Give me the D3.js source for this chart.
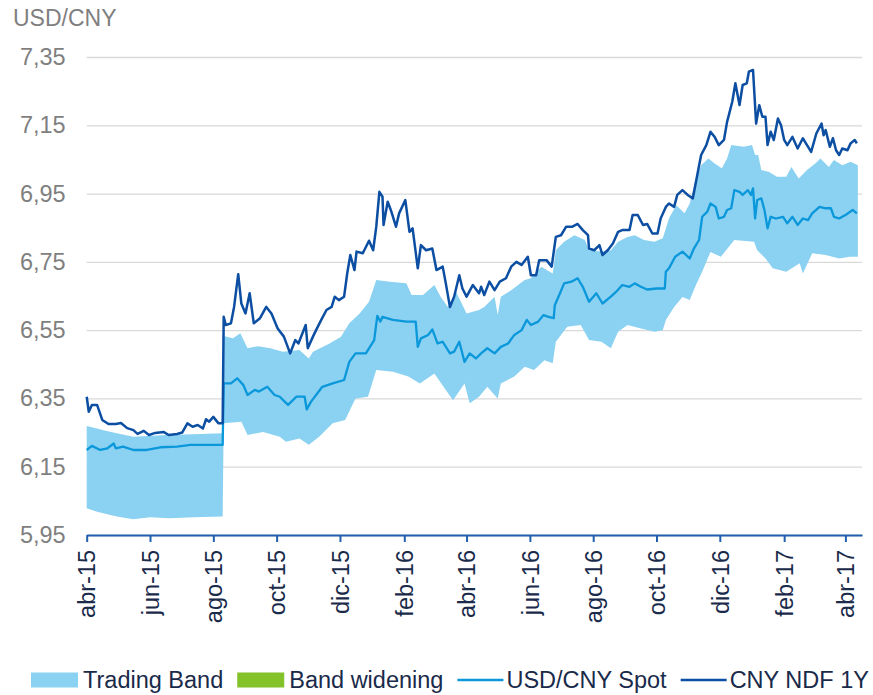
<!DOCTYPE html>
<html>
<head>
<meta charset="utf-8">
<script src="https://cdnjs.cloudflare.com/ajax/libs/d3/7.8.5/d3.min.js"></script>
<style>
body { margin: 0; background: #fff; }
text { font-family: "Liberation Sans", Arial, sans-serif; }
</style>
</head>
<body>
<svg width="873" height="695"></svg>
<script>
// DATA

var xTickDates = ["2015-04-01", "2015-06-01", "2015-08-01", "2015-10-01", "2015-12-01", "2016-02-01",
	"2016-04-01", "2016-06-01", "2016-08-01", "2016-10-01", "2016-12-01", "2017-02-01", "2017-04-01"];
var xTickLabels = ["abr-15", "jun-15", "ago-15", "oct-15", "dic-15", "feb-16",
	"abr-16", "jun-16", "ago-16", "oct-16", "dic-16", "feb-17", "abr-17"];
var yTicks = [5.95, 6.15, 6.35, 6.55, 6.75, 6.95, 7.15, 7.35];

// upper edge of the trading band
var bandHigh = [
	["2015-04-01", 6.269], ["2015-04-11", 6.262], ["2015-04-17", 6.257], ["2015-04-30", 6.248],
	["2015-05-16", 6.238], ["2015-06-17", 6.243], ["2015-07-20", 6.246], ["2015-08-10", 6.248],
	["2015-08-11", 6.533], ["2015-08-20", 6.526], ["2015-08-27", 6.541], ["2015-09-03", 6.497],
	["2015-09-13", 6.503], ["2015-09-25", 6.497], ["2015-10-07", 6.487], ["2015-10-23", 6.492],
	["2015-11-01", 6.467], ["2015-11-05", 6.487], ["2015-11-21", 6.511], ["2015-12-02", 6.531],
	["2015-12-10", 6.570], ["2015-12-20", 6.599], ["2015-12-29", 6.633], ["2016-01-05", 6.697],
	["2016-01-18", 6.692], ["2016-02-03", 6.687], ["2016-02-08", 6.653], ["2016-02-19", 6.653],
	["2016-03-01", 6.682], ["2016-03-07", 6.648], ["2016-03-14", 6.618], ["2016-03-22", 6.662],
	["2016-04-01", 6.599], ["2016-04-13", 6.609], ["2016-04-18", 6.618], ["2016-04-28", 6.648],
	["2016-05-01", 6.594], ["2016-05-04", 6.648], ["2016-05-14", 6.667], ["2016-05-27", 6.697],
	["2016-06-02", 6.702], ["2016-06-12", 6.736], ["2016-06-23", 6.716], ["2016-06-26", 6.784],
	["2016-07-04", 6.809], ["2016-07-14", 6.828], ["2016-07-24", 6.814], ["2016-07-28", 6.784],
	["2016-08-09", 6.780], ["2016-08-18", 6.784], ["2016-08-25", 6.809], ["2016-09-03", 6.823],
	["2016-09-10", 6.828], ["2016-09-19", 6.814], ["2016-09-29", 6.809], ["2016-10-07", 6.819],
	["2016-10-09", 6.838], ["2016-10-13", 6.877], ["2016-10-20", 6.916], ["2016-10-28", 6.892],
	["2016-11-02", 6.921], ["2016-11-07", 6.984], ["2016-11-13", 7.033], ["2016-11-20", 7.053],
	["2016-11-26", 7.038], ["2016-12-03", 7.024], ["2016-12-08", 7.053], ["2016-12-12", 7.092],
	["2016-12-24", 7.087], ["2017-01-01", 7.092], ["2017-01-04", 7.063], ["2017-01-07", 7.063],
	["2017-01-10", 7.019], ["2017-01-17", 7.014], ["2017-01-25", 6.999], ["2017-02-03", 6.999],
	["2017-02-08", 7.028], ["2017-02-15", 6.994], ["2017-02-23", 7.019], ["2017-03-03", 7.038],
	["2017-03-08", 7.053], ["2017-03-16", 7.028], ["2017-03-21", 7.048], ["2017-03-29", 7.033],
	["2017-04-06", 7.043], ["2017-04-13", 7.033]
];

// lower edge of the trading band
var bandLow = [
	["2015-04-01", 6.028], ["2015-04-11", 6.018], ["2015-04-30", 6.004], ["2015-05-16", 5.996],
	["2015-06-01", 6.002], ["2015-06-20", 5.999], ["2015-07-13", 6.002], ["2015-08-10", 6.004],
	["2015-08-11", 6.277], ["2015-08-28", 6.282], ["2015-09-03", 6.243], ["2015-09-18", 6.252],
	["2015-10-04", 6.238], ["2015-10-10", 6.223], ["2015-10-23", 6.233], ["2015-11-01", 6.214],
	["2015-11-11", 6.238], ["2015-11-24", 6.277], ["2015-12-06", 6.287], ["2015-12-16", 6.350],
	["2015-12-28", 6.355], ["2016-01-05", 6.433], ["2016-01-21", 6.428], ["2016-02-05", 6.414],
	["2016-02-16", 6.394], ["2016-03-01", 6.423], ["2016-03-12", 6.375], ["2016-03-19", 6.345],
	["2016-03-30", 6.394], ["2016-04-04", 6.336], ["2016-04-13", 6.355], ["2016-04-21", 6.384],
	["2016-05-01", 6.350], ["2016-05-04", 6.394], ["2016-05-17", 6.414], ["2016-05-27", 6.443],
	["2016-06-05", 6.433], ["2016-06-15", 6.462], ["2016-06-23", 6.453], ["2016-06-26", 6.516],
	["2016-07-07", 6.560], ["2016-07-20", 6.565], ["2016-07-28", 6.521], ["2016-08-09", 6.516],
	["2016-08-18", 6.497], ["2016-08-25", 6.545], ["2016-09-03", 6.565], ["2016-09-16", 6.555],
	["2016-09-29", 6.545], ["2016-10-07", 6.550], ["2016-10-10", 6.580], ["2016-10-18", 6.618],
	["2016-10-26", 6.647], ["2016-11-02", 6.638], ["2016-11-08", 6.682], ["2016-11-14", 6.721],
	["2016-11-22", 6.779], ["2016-12-02", 6.765], ["2016-12-15", 6.814], ["2017-01-03", 6.809],
	["2017-01-06", 6.784], ["2017-01-14", 6.760], ["2017-01-21", 6.731], ["2017-02-03", 6.721],
	["2017-02-16", 6.746], ["2017-02-19", 6.716], ["2017-02-28", 6.775], ["2017-03-13", 6.770],
	["2017-03-26", 6.760], ["2017-04-05", 6.765], ["2017-04-13", 6.765]
];

var spot = [
	["2015-04-01", 6.199], ["2015-04-06", 6.211], ["2015-04-14", 6.199], ["2015-04-21", 6.204],
	["2015-04-27", 6.218], ["2015-04-29", 6.204], ["2015-05-06", 6.209], ["2015-05-16", 6.199],
	["2015-05-29", 6.199], ["2015-06-11", 6.207], ["2015-06-27", 6.209], ["2015-07-10", 6.214],
	["2015-08-10", 6.214], ["2015-08-11", 6.394], ["2015-08-18", 6.394], ["2015-08-24", 6.409],
	["2015-08-30", 6.389], ["2015-09-03", 6.360], ["2015-09-10", 6.375], ["2015-09-14", 6.370],
	["2015-09-22", 6.384], ["2015-09-29", 6.360], ["2015-10-04", 6.355], ["2015-10-12", 6.331],
	["2015-10-20", 6.355], ["2015-10-28", 6.355], ["2015-10-30", 6.318], ["2015-11-03", 6.340],
	["2015-11-14", 6.384], ["2015-11-24", 6.394], ["2015-12-05", 6.404], ["2015-12-10", 6.457],
	["2015-12-16", 6.482], ["2015-12-26", 6.482], ["2016-01-03", 6.521], ["2016-01-06", 6.592],
	["2016-01-09", 6.575], ["2016-01-11", 6.589], ["2016-01-21", 6.580], ["2016-02-03", 6.575],
	["2016-02-12", 6.575], ["2016-02-14", 6.501], ["2016-02-17", 6.526], ["2016-02-24", 6.536],
	["2016-02-28", 6.552], ["2016-03-04", 6.511], ["2016-03-09", 6.516], ["2016-03-16", 6.482],
	["2016-03-20", 6.487], ["2016-03-25", 6.516], ["2016-03-30", 6.457], ["2016-04-04", 6.482],
	["2016-04-10", 6.467], ["2016-04-15", 6.482], ["2016-04-21", 6.497], ["2016-04-28", 6.482],
	["2016-05-04", 6.501], ["2016-05-11", 6.511], ["2016-05-17", 6.536], ["2016-05-24", 6.550],
	["2016-05-29", 6.580], ["2016-06-02", 6.565], ["2016-06-09", 6.575], ["2016-06-14", 6.594],
	["2016-06-19", 6.589], ["2016-06-24", 6.585], ["2016-06-25", 6.623], ["2016-06-30", 6.658],
	["2016-07-04", 6.687], ["2016-07-11", 6.692], ["2016-07-17", 6.702], ["2016-07-22", 6.677],
	["2016-07-28", 6.633], ["2016-08-04", 6.658], ["2016-08-10", 6.628], ["2016-08-18", 6.648],
	["2016-08-23", 6.662], ["2016-08-29", 6.682], ["2016-09-05", 6.677], ["2016-09-10", 6.687],
	["2016-09-16", 6.677], ["2016-09-22", 6.669], ["2016-10-01", 6.672], ["2016-10-09", 6.672],
	["2016-10-10", 6.721], ["2016-10-13", 6.731], ["2016-10-19", 6.765], ["2016-10-26", 6.780],
	["2016-11-02", 6.760], ["2016-11-06", 6.789], ["2016-11-11", 6.814], ["2016-11-14", 6.882],
	["2016-11-19", 6.897], ["2016-11-22", 6.921], ["2016-11-27", 6.911], ["2016-11-30", 6.877],
	["2016-12-05", 6.882], ["2016-12-08", 6.902], ["2016-12-12", 6.907], ["2016-12-15", 6.960],
	["2016-12-20", 6.955], ["2016-12-23", 6.946], ["2016-12-28", 6.960], ["2016-12-31", 6.946],
	["2017-01-02", 6.965], ["2017-01-04", 6.877], ["2017-01-06", 6.931], ["2017-01-10", 6.936],
	["2017-01-13", 6.902], ["2017-01-16", 6.848], ["2017-01-19", 6.882], ["2017-01-24", 6.877],
	["2017-01-31", 6.882], ["2017-02-04", 6.863], ["2017-02-09", 6.882], ["2017-02-14", 6.858],
	["2017-02-19", 6.877], ["2017-02-24", 6.872], ["2017-02-28", 6.892], ["2017-03-07", 6.911],
	["2017-03-13", 6.907], ["2017-03-18", 6.907], ["2017-03-21", 6.882], ["2017-03-26", 6.877],
	["2017-04-01", 6.887], ["2017-04-08", 6.902], ["2017-04-12", 6.892]
];

var ndf = [
	["2015-04-01", 6.355], ["2015-04-03", 6.311], ["2015-04-06", 6.331], ["2015-04-11", 6.331],
	["2015-04-16", 6.287], ["2015-04-22", 6.275], ["2015-04-29", 6.275], ["2015-05-04", 6.278],
	["2015-05-10", 6.263], ["2015-05-16", 6.257], ["2015-05-20", 6.246], ["2015-05-26", 6.255],
	["2015-05-31", 6.243], ["2015-06-06", 6.249], ["2015-06-14", 6.252], ["2015-06-19", 6.243],
	["2015-06-27", 6.246], ["2015-07-02", 6.250], ["2015-07-07", 6.277], ["2015-07-12", 6.267],
	["2015-07-17", 6.272], ["2015-07-22", 6.262], ["2015-07-25", 6.289], ["2015-07-28", 6.282],
	["2015-08-01", 6.296], ["2015-08-06", 6.277], ["2015-08-10", 6.277], ["2015-08-11", 6.589],
	["2015-08-13", 6.565], ["2015-08-18", 6.570], ["2015-08-21", 6.618], ["2015-08-25", 6.714],
	["2015-08-28", 6.628], ["2015-09-01", 6.599], ["2015-09-05", 6.658], ["2015-09-09", 6.570],
	["2015-09-15", 6.585], ["2015-09-21", 6.618], ["2015-09-26", 6.599], ["2015-10-02", 6.555],
	["2015-10-08", 6.531], ["2015-10-14", 6.482], ["2015-10-19", 6.521], ["2015-10-22", 6.511],
	["2015-10-29", 6.565], ["2015-10-31", 6.497], ["2015-11-05", 6.531], ["2015-11-08", 6.550],
	["2015-11-13", 6.580], ["2015-11-18", 6.609], ["2015-11-23", 6.618], ["2015-11-26", 6.648],
	["2015-11-30", 6.638], ["2015-12-05", 6.648], ["2015-12-08", 6.716], ["2015-12-11", 6.770],
	["2015-12-15", 6.726], ["2015-12-17", 6.780], ["2015-12-23", 6.775], ["2015-12-29", 6.812],
	["2016-01-02", 6.784], ["2016-01-05", 6.853], ["2016-01-08", 6.955], ["2016-01-11", 6.941],
	["2016-01-12", 6.858], ["2016-01-16", 6.926], ["2016-01-19", 6.902], ["2016-01-24", 6.853],
	["2016-01-27", 6.892], ["2016-02-02", 6.931], ["2016-02-06", 6.838], ["2016-02-09", 6.848],
	["2016-02-14", 6.731], ["2016-02-17", 6.799], ["2016-02-22", 6.784], ["2016-02-28", 6.789],
	["2016-03-03", 6.726], ["2016-03-09", 6.736], ["2016-03-12", 6.687], ["2016-03-16", 6.618],
	["2016-03-20", 6.648], ["2016-03-25", 6.711], ["2016-03-28", 6.672], ["2016-04-01", 6.648],
	["2016-04-07", 6.682], ["2016-04-13", 6.658], ["2016-04-15", 6.677], ["2016-04-18", 6.653],
	["2016-04-23", 6.692], ["2016-04-28", 6.667], ["2016-05-03", 6.692], ["2016-05-09", 6.702],
	["2016-05-14", 6.736], ["2016-05-19", 6.750], ["2016-05-24", 6.741], ["2016-05-30", 6.765],
	["2016-06-02", 6.711], ["2016-06-07", 6.711], ["2016-06-10", 6.755], ["2016-06-17", 6.755],
	["2016-06-22", 6.736], ["2016-06-26", 6.823], ["2016-07-01", 6.828], ["2016-07-06", 6.853],
	["2016-07-12", 6.853], ["2016-07-17", 6.861], ["2016-07-22", 6.843], ["2016-07-27", 6.828],
	["2016-07-28", 6.789], ["2016-08-02", 6.784], ["2016-08-07", 6.799], ["2016-08-10", 6.770],
	["2016-08-15", 6.784], ["2016-08-20", 6.804], ["2016-08-25", 6.838], ["2016-08-29", 6.843],
	["2016-09-05", 6.843], ["2016-09-08", 6.887], ["2016-09-13", 6.887], ["2016-09-18", 6.858],
	["2016-09-22", 6.861], ["2016-09-27", 6.833], ["2016-10-02", 6.833], ["2016-10-05", 6.877],
	["2016-10-10", 6.911], ["2016-10-13", 6.921], ["2016-10-18", 6.911], ["2016-10-21", 6.946],
	["2016-10-26", 6.960], ["2016-10-31", 6.946], ["2016-11-05", 6.936], ["2016-11-08", 6.984],
	["2016-11-13", 7.063], ["2016-11-18", 7.092], ["2016-11-22", 7.131], ["2016-11-26", 7.116],
	["2016-11-30", 7.092], ["2016-12-05", 7.107], ["2016-12-08", 7.160], ["2016-12-13", 7.219],
	["2016-12-16", 7.273], ["2016-12-20", 7.209], ["2016-12-23", 7.268], ["2016-12-27", 7.273],
	["2016-12-29", 7.307], ["2017-01-02", 7.312], ["2017-01-05", 7.155], ["2017-01-08", 7.209],
	["2017-01-11", 7.175], ["2017-01-14", 7.175], ["2017-01-16", 7.092], ["2017-01-19", 7.131],
	["2017-01-22", 7.107], ["2017-01-26", 7.170], ["2017-01-29", 7.150], ["2017-02-01", 7.107],
	["2017-02-04", 7.092], ["2017-02-09", 7.116], ["2017-02-14", 7.082], ["2017-02-19", 7.112],
	["2017-02-22", 7.097], ["2017-02-27", 7.072], ["2017-03-04", 7.126], ["2017-03-09", 7.155],
	["2017-03-11", 7.121], ["2017-03-13", 7.136], ["2017-03-17", 7.087], ["2017-03-20", 7.112],
	["2017-03-23", 7.077], ["2017-03-26", 7.063], ["2017-03-29", 7.082], ["2017-04-03", 7.077],
	["2017-04-06", 7.097], ["2017-04-10", 7.107], ["2017-04-12", 7.097]
];

var legendNames = ["Trading Band", "Band widening", "USD/CNY Spot", "CNY NDF 1Y"];
var legendKinds = ["rect", "rect", "line", "line"];
var colors = {band: "#8bd1f2", widening: "#84c22a", spot: "#0a98db", ndf: "#0b4ea2"};
var legendColors = [colors.band, colors.widening, colors.spot, colors.ndf];


// SETUP

var svg = d3.select("svg"),
    plotLeft = 86.7, plotRight = 862, plotTop = 57, plotBottom = 535;

var parse = d3.timeParse("%Y-%m-%d");
var comma = d3.formatLocale({decimal: ",", thousands: ".", grouping: [3], currency: ["", ""]}).format(".2f");

var x = d3.scaleTime()
    .domain([parse("2015-04-01"), parse("2017-04-17")])
    .range([plotLeft, plotRight]);

var y = d3.scaleLinear()
    .domain([5.95, 7.35])
    .range([plotBottom, plotTop]);

var line = d3.line()
    .x(function(d) { return x(parse(d[0])); })
    .y(function(d) { return y(d[1]); });


// GRID + Y LABELS

var yAxis = svg.append("g")
    .attr("transform", "translate(" + plotLeft + ",0)")
    .call(d3.axisLeft(y).tickValues(yTicks).tickFormat(comma).tickSize(-(plotRight - plotLeft)).tickPadding(21));
yAxis.select(".domain").remove();
yAxis.selectAll("line").attr("stroke", "#d9d9d9").attr("stroke-width", 1.3);
yAxis.selectAll("text")
    .attr("fill", "#7f7f7f")
    .style("font-size", "23.5px");

svg.append("text")
    .attr("x", 13)
    .attr("y", 26)
    .attr("fill", "#7f7f7f")
    .style("font-size", "23px")
    .text("USD/CNY");


// BAND + LINES

// the band is one closed shape: upper edge forward, lower edge back
svg.append("path")
    .attr("d", line(bandHigh.concat(bandLow.slice().reverse())) + "Z")
    .attr("fill", colors.band);

svg.append("path")
    .attr("d", line(spot))
    .attr("fill", "none")
    .attr("stroke", colors.spot)
    .attr("stroke-width", 2.3)
    .attr("stroke-linejoin", "round");

svg.append("path")
    .attr("d", line(ndf))
    .attr("fill", "none")
    .attr("stroke", colors.ndf)
    .attr("stroke-width", 2.5)
    .attr("stroke-linejoin", "round");


// X AXIS

var xAxis = svg.append("g")
    .attr("transform", "translate(0," + plotBottom + ")")
    .call(d3.axisBottom(x)
        .tickValues(xTickDates.map(parse))
        .tickFormat(function(d, i) { return xTickLabels[i]; })
        .tickSize(7)
        .tickSizeOuter(0));
xAxis.select(".domain").attr("stroke", "#1f5fae").attr("stroke-width", 2);
xAxis.selectAll("line").attr("stroke", "#1f5fae").attr("stroke-width", 2);
xAxis.selectAll("text")
    .attr("transform", "rotate(-90)")
    .attr("text-anchor", "end")
    .attr("x", -15)
    .attr("y", 0)
    .attr("dy", "0.35em")
    .attr("fill", "#1a2a4a")
    .style("font-size", "23.5px");


// LEGEND

var lx = 31, ly = 680;
legendNames.forEach(function(name, i) {
	var gap;
	if (legendKinds[i] == "rect") {
		svg.append("rect")
		    .attr("x", lx).attr("y", ly - 7.5)
		    .attr("width", 47).attr("height", 15)
		    .attr("fill", legendColors[i]);
		gap = 52;
	} else {
		svg.append("line")
		    .attr("x1", lx).attr("x2", lx + 46)
		    .attr("y1", ly).attr("y2", ly)
		    .attr("stroke", legendColors[i])
		    .attr("stroke-width", 2.5);
		gap = 49;
	}
	var t = svg.append("text")
	    .attr("x", lx + gap)
	    .attr("y", ly + 8)
	    .attr("fill", "#1a2a4a")
	    .style("font-size", "23.5px")
	    .text(name);
	lx = lx + gap + t.node().getComputedTextLength() + 14;
});
</script>
</body>
</html>
